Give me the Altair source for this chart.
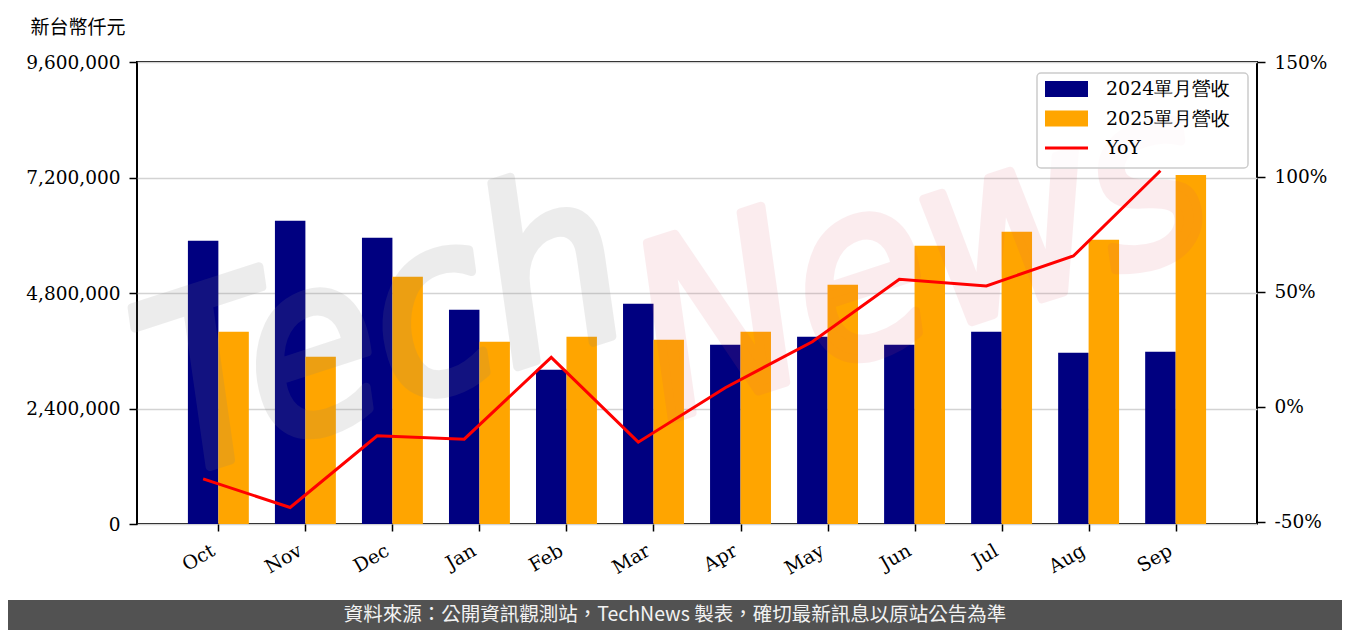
import altair as alt
import pandas as pd

months = ["Oct", "Nov", "Dec", "Jan", "Feb", "Mar", "Apr", "May", "Jun", "Jul", "Aug", "Sep"]
rev_2024 = [5885000, 6300000, 5947000, 4451000, 3204000, 4576000,
            3724000, 3890000, 3724000, 3994000, 3557000, 3578000]
rev_2025 = [3994000, 3474000, 5137000, 3786000, 3890000, 3828000,
            3994000, 4970000, 5781000, 6072000, 5906000, 7250000]
yoy = [-31.4, -43.8, -12.6, -14.1, 21.5, -15.4, 8.3, 28.3, 55.5, 52.6, 65.6, 102.7]

left_ticks = [0, 2400000, 4800000, 7200000, 9600000]
right_ticks = [-50, 0, 50, 100, 150]
legend_labels = ["2024單月營收", "2025單月營收", "YoY"]
legend_colors = ["#000080", "#FFA500", "#FF0000"]
title_text = "新台幣仟元"
footer_text = "資料來源：公開資訊觀測站，TechNews 製表，確切最新訊息以原站公告為準"
watermark_words = ["Tech", "News"]

W, H = 1120, 462
SERIF = "DejaVu Serif"
CJK = "Noto Sans CJK TC"

df = pd.DataFrame({
    "month": months,
    "idx": list(range(len(months))),
    "rev_2024": rev_2024,
    "rev_2025": rev_2025,
    "yoy": yoy,
})

xscale = alt.Scale(domain=[-0.935, 11.935], nice=False, zero=False)
month_expr = "[" + ",".join("'%s'" % m for m in months) + "][datum.value]"
xaxis = alt.Axis(values=list(range(len(months))), labelExpr=month_expr, title=None,
                 grid=False, domain=False, labelAngle=330, labelAlign="right",
                 labelBaseline="top", labelPadding=10, labelOffset=-10, tickSize=7,
                 tickWidth=1.5, tickColor="black", labelFont=SERIF, labelFontSize=19,
                 labelColor="black")

base = alt.Chart(df)

bars = base.transform_fold(
    ["rev_2024", "rev_2025"], as_=["series", "value"]
).transform_calculate(
    x0="datum.idx + (datum.series == 'rev_2024' ? -0.35 : 0)",
    x1="datum.idx + (datum.series == 'rev_2024' ? 0 : 0.35)",
).mark_rect().encode(
    x=alt.X("x0:Q", scale=xscale, axis=xaxis),
    x2="x1:Q",
    y=alt.Y("value:Q", scale=alt.Scale(domain=[0, 9600000], nice=False),
            axis=alt.Axis(values=left_ticks, format=",.0f", grid=True,
                          gridColor="#d3d3d3", gridWidth=1.5, domain=False,
                          tickSize=8, tickWidth=1.5, tickColor="black",
                          labelPadding=9, labelFont=SERIF, labelFontSize=18.5,
                          labelColor="black",
                          title=title_text, titleAngle=0, titleAlign="left",
                          titleBaseline="middle", titleX=-107, titleY=-35,
                          titleFont=CJK, titleFontSize=19, titleFontWeight="normal",
                          titleColor="black")),
    y2=alt.datum(0),
    color=alt.Color("series:N", scale=alt.Scale(domain=["rev_2024", "rev_2025"],
                                                range=legend_colors[:2]), legend=None),
)

wm_tech = alt.Chart(pd.DataFrame({"w": [watermark_words[0]]})).mark_text(
    font="DejaVu Sans Condensed", fontSize=240, fontWeight="normal", fontStyle="italic",
    angle=342, color="#808080", stroke="#808080", strokeWidth=9, strokeJoin="round",
    strokeCap="round", opacity=0.14, align="center", baseline="middle"
).encode(text="w:N", x=alt.value(248), y=alt.value(272))

wm_news = alt.Chart(pd.DataFrame({"w": [watermark_words[1]]})).mark_text(
    font="DejaVu Sans Condensed", fontSize=240, fontWeight="normal", fontStyle="italic",
    angle=342, color="#dc5064", stroke="#dc5064", strokeWidth=9, strokeJoin="round",
    strokeCap="round", opacity=0.1, align="center", baseline="middle"
).encode(text="w:N", x=alt.value(785), y=alt.value(200))

line = base.transform_calculate(xl="datum.idx - 0.175").mark_line(
    color=legend_colors[2], strokeWidth=3
).encode(
    x=alt.X("xl:Q", scale=xscale, axis=xaxis),
    y=alt.Y("yoy:Q", scale=alt.Scale(domain=[-51, 150], nice=False, zero=False),
            axis=alt.Axis(orient="right", values=right_ticks,
                          labelExpr="datum.value + '%'", grid=False, domain=False,
                          tickSize=8, tickWidth=1.5, tickColor="black", labelPadding=9,
                          labelFont=SERIF, labelFontSize=18.5, labelColor="black",
                          title=None)),
)

# legend box
leg_box = alt.Chart(pd.DataFrame({"k": [0]})).mark_rect(
    fill="white", fillOpacity=0.8, stroke="#cccccc", strokeWidth=1.5, cornerRadius=4
).encode(x=alt.value(900), x2=alt.value(1111), y=alt.value(11), y2=alt.value(106))

leg_layers = []
for i, (lab, col) in enumerate(zip(legend_labels, legend_colors)):
    d = alt.Chart(pd.DataFrame({"label": [lab]}))
    yc = 27 + i * 29.5
    if i < 2:
        leg_layers.append(d.mark_rect(color=col).encode(
            x=alt.value(908), x2=alt.value(951), y=alt.value(yc - 8), y2=alt.value(yc + 8)))
    else:
        leg_layers.append(d.mark_rule(color=col, strokeWidth=3).encode(
            x=alt.value(908), x2=alt.value(951), y=alt.value(yc)))
    leg_layers.append(d.mark_text(align="left", baseline="middle", font=SERIF,
                                  fontSize=19, color="black").encode(
        text="label:N", x=alt.value(969), y=alt.value(yc)))

footer_rect = alt.Chart(pd.DataFrame({"k": [0]})).mark_rect(color="#525252").encode(
    x=alt.value(-129), x2=alt.value(1205), y=alt.value(538), y2=alt.value(568))
footer_txt = alt.Chart(pd.DataFrame({"t": [footer_text]})).mark_text(
    font=CJK, fontSize=19.5, color="#f2f2f2", align="center", baseline="middle"
).encode(text="t:N", x=alt.value(538), y=alt.value(553))

chart = alt.layer(
    bars, wm_tech, wm_news, line, leg_box, *leg_layers, footer_rect, footer_txt
).resolve_scale(y="independent").properties(
    width=W, height=H,
    background="white",
    autosize=alt.AutoSizeParams(type="none"),
    padding={"left": 129, "top": 54, "right": 85, "bottom": 106},
).configure_view(stroke="black", strokeWidth=2)

chart.save("out.html", embed_options={"renderer": "svg", "actions": False})
